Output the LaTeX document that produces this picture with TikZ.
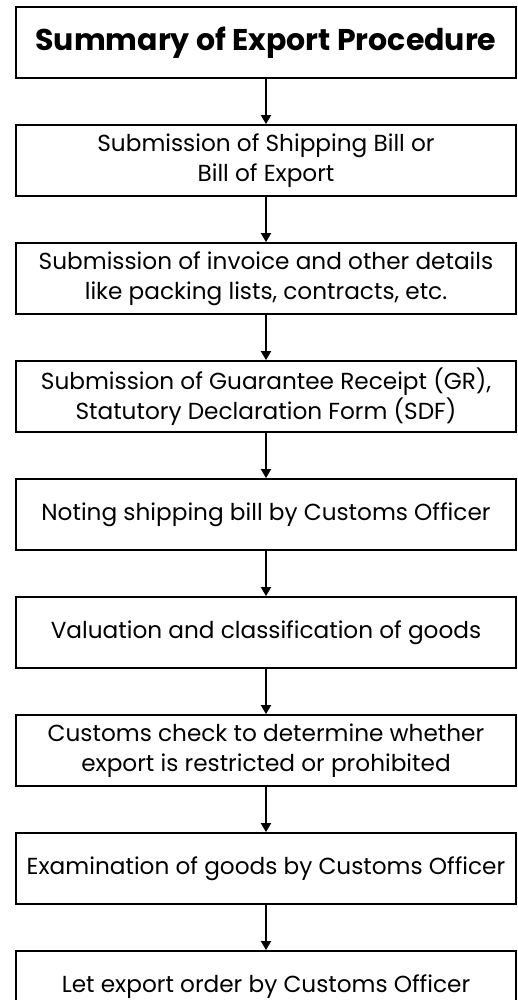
\documentclass[tikz,border=0pt]{standalone}
\usepackage{fontspec}
\setmainfont{Poppins}
\usepackage{tikz}
\usetikzlibrary{arrows.meta,positioning}

\begin{document}
\begin{tikzpicture}[x=1pt, y=1pt,
    node distance=45.4pt,
    stepbox/.style={rectangle, draw=black, line width=1.8pt, minimum width=500pt,
                    minimum height=70.8pt, align=center, inner sep=0pt,
                    font=\fontsize{23.2}{30}\selectfont},
    arr/.style={-{Triangle[length=9pt, width=10pt]}, line width=1.8pt}
]
\useasboundingbox (0,0) rectangle (518,-1000);
\node[stepbox, font=\fontsize{30}{30}\selectfont\bfseries] (title) at (266,-42.4)
      {Summary of Export Procedure};
\node[stepbox, below=of title] (bill)
      {Submission of Shipping Bill or\\Bill of Export};
\node[stepbox, below=of bill] (invoice)
      {Submission of invoice and other details\\like packing lists, contracts, etc.};
\node[stepbox, below=of invoice] (gr)
      {Submission of Guarantee Receipt (GR),\\Statutory Declaration Form (SDF)};
\node[stepbox, below=of gr] (noting)
      {Noting shipping bill by Customs Officer};
\node[stepbox, below=of noting] (valuation)
      {Valuation and classification of goods};
\node[stepbox, below=of valuation] (check)
      {Customs check to determine whether\\export is restricted or prohibited};
\node[stepbox, below=of check] (exam)
      {Examination of goods by Customs Officer};
\node[stepbox, below=of exam] (order)
      {Let export order by Customs Officer};
% connectors
\foreach \a/\b in {title/bill, bill/invoice, invoice/gr, gr/noting,
                   noting/valuation, valuation/check, check/exam, exam/order}
  \draw[arr] (\a) -- (\b);
\end{tikzpicture}
\end{document}
